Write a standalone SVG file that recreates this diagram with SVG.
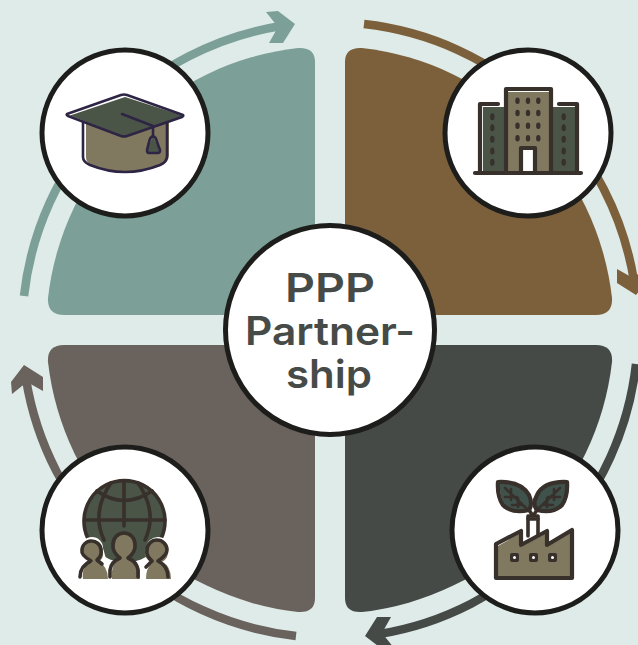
<svg xmlns="http://www.w3.org/2000/svg" width="638" height="645" viewBox="0 0 638 645">
<style>
.ring{fill:#fff;stroke:#1d1d1b;stroke-width:5}
.line{fill:none;stroke:#38302b;stroke-width:3.6;stroke-linecap:round;stroke-linejoin:round}
.thick{stroke-width:4.2}
.vein{stroke-width:2.6}
.cap{fill:none;stroke:#2e2545;stroke-width:2.6;stroke-linecap:round;stroke-linejoin:round}
.tan{fill:#80785f}
.green{fill:#4a5548}
.dot{fill:#38302b}
.label{font-family:"Inter","Liberation Sans",sans-serif;font-weight:600;font-size:39px;fill:#474b48;text-anchor:middle}
</style>
<defs>
<g id="arrow">
<path fill="none" stroke-width="8.500" d="M24 296A308 308 0 0 1 281 26"/>
<polygon points="266,12 278,11 295,24 283,43 269,43 278,27" stroke="none"/>
</g>
</defs>
<rect width="638" height="645" fill="#dfebe9"/>
<g id="quadrants">
<path id="q-education" fill="#7ca097" d="M315 62V315H64Q47 315 48 298A284 284 0 0 1 298 48Q315 47 315 62Z"/>
<path id="q-business" fill="#7c603c" d="M345 62V315H596Q613 315 612 298A284 284 0 0 0 362 48Q345 47 345 62Z"/>
<path id="q-community" fill="#69625d" d="M315 598V345H64Q47 345 48 362A284 284 0 0 0 298 612Q315 613 315 598Z"/>
<path id="q-industry" fill="#454a46" d="M345 598V345H596Q613 345 612 362A284 284 0 0 1 362 612Q345 613 345 598Z"/>
</g>
<g id="arrows">
<use href="#arrow" fill="#7ca097" stroke="#7ca097"/>
<use href="#arrow" fill="#7c603c" stroke="#7c603c" transform="rotate(90 330 330)"/>
<use href="#arrow" fill="#454a46" stroke="#454a46" transform="rotate(180 330 330)"/>
<use href="#arrow" fill="#69625d" stroke="#69625d" transform="rotate(270 330 330)"/>
</g>
<g id="node-education">
<circle class="ring" cx="125" cy="133" r="83"/>
<path class="tan" d="M86 120H169V155Q169 161 163 165Q127 179 92 166Q86 163 86 157Z"/>
<polygon class="green" points="70,115.500 125,97 184,116 125,136.500"/>
<path class="cap" d="M83 122V157Q83 162 90 165Q125 179 160 165Q167 162 167 156V123"/>
<path class="cap" d="M67 114L121 95Q124 94 127 95L183 115Q184 116 182 117L127 136Q124 137 121 136L68 116Q66 115 67 114Z"/>
<path class="cap" d="M122 114L153 126V137"/>
<path class="green" d="M153 137L158 147Q160 154 158 154H149Q146 154 148 147Z"/>
<path class="cap" d="M153 136Q150 137 149 142L147 150Q147 153 149 153H158Q160 153 160 150L157 142Q156 137 153 136Z"/>
</g>
<g id="node-business">
<circle class="ring" cx="528" cy="133" r="83"/>
<rect class="green" x="483" y="107" width="23" height="66"/>
<rect class="green" x="552" y="107" width="26" height="66"/>
<rect class="tan" x="508" y="92" width="43" height="81"/>
<rect x="523" y="150" width="11" height="23" fill="#fff"/>
<path class="line thick" d="M506 173V89H551V173"/>
<path class="line thick" d="M498 104H480V173M559 104H577V173"/>
<path class="line thick" d="M521 173V148H535V173"/>
<path class="line thick" d="M475 173H581"/>
<g class="dot">
<ellipse cx="517.500" cy="100.700" rx="2.200" ry="3.300"/><ellipse cx="528" cy="100.700" rx="2.200" ry="3.300"/><ellipse cx="538.300" cy="100.700" rx="2.200" ry="3.300"/>
<ellipse cx="517.500" cy="113" rx="2.200" ry="3.300"/><ellipse cx="528" cy="113" rx="2.200" ry="3.300"/><ellipse cx="538.300" cy="113" rx="2.200" ry="3.300"/>
<ellipse cx="517.500" cy="125.700" rx="2.200" ry="3.300"/><ellipse cx="528" cy="125.700" rx="2.200" ry="3.300"/><ellipse cx="538.300" cy="125.700" rx="2.200" ry="3.300"/>
<ellipse cx="517.500" cy="138.300" rx="2.200" ry="3.300"/><ellipse cx="528" cy="138.300" rx="2.200" ry="3.300"/><ellipse cx="538.300" cy="138.300" rx="2.200" ry="3.300"/>
<ellipse cx="492.300" cy="116.700" rx="2.200" ry="3.500"/><ellipse cx="492.300" cy="127.700" rx="2.200" ry="3.500"/><ellipse cx="492.300" cy="139.300" rx="2.200" ry="3.500"/><ellipse cx="492.300" cy="151" rx="2.200" ry="3.500"/><ellipse cx="492.300" cy="162.300" rx="2.200" ry="3.500"/>
<ellipse cx="563.700" cy="116.700" rx="2.200" ry="3.500"/><ellipse cx="563.700" cy="127.700" rx="2.200" ry="3.500"/><ellipse cx="563.700" cy="139.300" rx="2.200" ry="3.500"/><ellipse cx="563.700" cy="151" rx="2.200" ry="3.500"/><ellipse cx="563.700" cy="162.300" rx="2.200" ry="3.500"/>
</g>
</g>
<g id="node-community">
<circle class="ring" cx="125" cy="530" r="83"/>
<circle class="green" cx="125.500" cy="522" r="40.500"/>
<path class="line" d="M87.700 538A40.500 40.500 0 1 1 161.300 538"/>
<path class="line" d="M85 520H165M124 482V526"/>
<path class="line" d="M111 483Q91 512 104 540M138 483Q158 512 145 540"/>
<path class="line" d="M97 491Q124 510 152 491"/>
<path fill="#fff" d="M78 580Q78 567 88 561Q79 553 81 548A11 11 0 0 1 103 548L108 566L104 580ZM147 580Q146 570 148 566L146 548A11 11 0 0 1 170 550Q170 556 164 561Q172 567 172 580Z"/>
<path class="tan" d="M83 579Q81 566 93 562Q85 558 83 552A10 10 0 0 1 103 552Q104 559 98 562Q108 566 108 579Z"/>
<path class="tan" d="M146 579Q146 568 152 563Q144 558 145 552A10 10 0 0 1 168 552Q168 559 162 562Q171 566 171 579Z"/>
<path class="tan" d="M112 579V571Q113 563 120 558Q113 552 115 544A10 10 0 0 1 135 544Q137 552 130 558Q139 562 140 571V579Z"/>
<path class="line" d="M110 577V570Q111 562 120 558Q112 552 113 544A11 11 0 0 1 135 544Q136 552 128 558Q137 562 138 570V577"/>
<path class="line" d="M80 577Q80 566 91 561Q81 555 82 551A9.500 9.500 0 0 1 101 550Q102 556 97 560L102 564"/>
<path class="line" d="M168 577Q168 566 158 561Q167 555 167 550A10 10 0 0 0 147 550Q146 556 152 561L146 567"/>
</g>
<g id="node-industry">
<circle class="ring" cx="535" cy="530" r="83"/>
<path class="tan" d="M498 546L521 533V547L547 533V547L573 531V579H498Z"/>
<path class="line" d="M528 536V516H538V535"/>
<path class="line" d="M528 519H538"/>
<path class="line thick" d="M496 578V544L521 531V545L547 531V545L572 530V578Z"/>
<g class="dot">
<rect x="510" y="553" width="9" height="9" rx="2"/><rect x="529" y="553" width="9" height="9" rx="2"/><rect x="548" y="553" width="9" height="9" rx="2"/>
</g>
<g fill="#fff"><circle cx="514.500" cy="557.500" r="1.500"/><circle cx="533.500" cy="557.500" r="1.500"/><circle cx="552.500" cy="557.500" r="1.500"/></g>
<path fill="#3f524b" d="M500 483Q521 482 528 495Q532 504 528 510Q514 514 505 505Q499 496 500 483Z"/>
<path fill="#3f524b" d="M567 483Q546 482 538 495Q534 504 538 510Q552 514 561 505Q568 496 567 483Z"/>
<path class="line thick" d="M498 482Q521 481 529 495Q533 504 529 510Q512 514 503 505Q497 496 498 482Z"/>
<path class="line thick" d="M567 482Q544 481 537 495Q532 504 537 510Q553 514 562 505Q568 496 567 482Z"/>
<path class="line vein" d="M505 488L526 508M511 489V500M505 497H517M518 498V507M512 505H523"/>
<path class="line vein" d="M560 488L539 508M554 489V500M560 497H548M547 498V507M553 505H542"/>
<path class="line" d="M529 510L533 516L537 510"/>
</g>
<g id="node-center">
<circle class="ring" cx="330" cy="330" r="104.500"/>
<text class="label" x="330" y="302" textLength="90" lengthAdjust="spacingAndGlyphs">PPP</text>
<text class="label" x="330" y="345" textLength="170" lengthAdjust="spacingAndGlyphs">Partner-</text>
<text class="label" x="329" y="388" textLength="86" lengthAdjust="spacingAndGlyphs">ship</text>
</g>
</svg>
